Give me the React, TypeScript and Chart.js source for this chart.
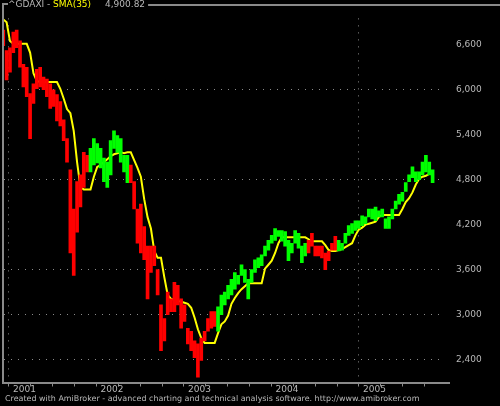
import { useEffect, useRef } from 'react';
import { Chart, registerables } from 'chart.js';

Chart.register(...registerables);

// Bi-weekly sampling of the ^GDAXI price history
const dates = [
  '2000-12-08', '2000-12-22',
  '2001-01-05', '2001-01-19', '2001-02-02', '2001-02-16', '2001-03-02', '2001-03-16', '2001-03-30', '2001-04-13', '2001-04-27', '2001-05-11', '2001-05-25', '2001-06-08', '2001-06-22',
  '2001-07-06', '2001-07-20', '2001-08-03', '2001-08-17', '2001-08-31', '2001-09-14', '2001-09-28', '2001-10-12', '2001-10-26', '2001-11-09', '2001-11-23', '2001-12-07', '2001-12-21',
  '2002-01-04', '2002-01-18', '2002-02-01', '2002-02-15', '2002-03-01', '2002-03-15', '2002-03-29', '2002-04-12', '2002-04-26', '2002-05-10', '2002-05-24', '2002-06-07', '2002-06-21',
  '2002-07-05', '2002-07-19', '2002-08-02', '2002-08-16', '2002-08-30', '2002-09-13', '2002-09-27', '2002-10-11', '2002-10-25', '2002-11-08', '2002-11-22', '2002-12-06', '2002-12-20',
  '2003-01-03', '2003-01-17', '2003-01-31', '2003-02-14', '2003-02-28', '2003-03-14', '2003-03-28', '2003-04-11', '2003-04-25', '2003-05-09', '2003-05-23', '2003-06-06', '2003-06-20',
  '2003-07-04', '2003-07-18', '2003-08-01', '2003-08-15', '2003-08-29', '2003-09-12', '2003-09-26', '2003-10-10', '2003-10-24', '2003-11-07', '2003-11-21', '2003-12-05', '2003-12-19',
  '2004-01-02', '2004-01-16', '2004-01-30', '2004-02-13', '2004-02-27', '2004-03-12', '2004-03-26', '2004-04-09', '2004-04-23', '2004-05-07', '2004-05-21', '2004-06-04', '2004-06-18',
  '2004-07-02', '2004-07-16', '2004-07-30', '2004-08-13', '2004-08-27', '2004-09-10', '2004-09-24', '2004-10-08', '2004-10-22', '2004-11-05', '2004-11-19', '2004-12-03', '2004-12-17', '2004-12-31',
  '2005-01-14', '2005-01-28', '2005-02-11', '2005-02-25', '2005-03-11', '2005-03-25', '2005-04-08', '2005-04-22', '2005-05-06', '2005-05-20', '2005-06-03',
  '2005-06-17', '2005-07-01', '2005-07-15', '2005-07-29', '2005-08-12', '2005-08-26', '2005-09-09', '2005-09-23', '2005-10-07', '2005-10-21', '2005-11-04',
];

const highs = [
  6796, 6522, 6561, 6770, 6796, 6652, 6339, 6300, 5948, 6078,
  6274, 6300, 6170, 6144, 6078, 6000, 5935, 5843, 5600, 5348,
  4931, 4409, 4774, 4865, 5165, 5126, 5217, 5348, 5283, 5217,
  5087, 5035, 5322, 5452, 5387, 5348, 5126, 5126, 4996, 4774,
  4409, 4474, 4174, 3913, 3913, 3913, 3600, 3130, 2948, 3300,
  3209, 3430, 3391, 3209, 3130, 2817, 2778, 2648, 2609, 2687,
  2778, 2948, 3039, 3039, 3104, 3261, 3300, 3391, 3470, 3561,
  3522, 3665, 3600, 3470, 3600, 3731, 3757, 3796, 3913, 3991,
  4057, 4148, 4122, 4122, 4109, 3991, 3952, 4122, 4083, 3913,
  3952, 3991, 4083, 3913, 3913, 3913, 3822, 3848, 3952, 4044,
  3991, 3952, 4083, 4187, 4213, 4252, 4252, 4317, 4304, 4409,
  4409, 4435, 4383, 4409, 4278, 4304, 4409, 4513, 4604, 4630,
  4761, 4865, 4970, 4904, 4904, 5035, 5126, 5035, 4931,
];

const lows = [
  6587, 6130, 6235, 6496, 6561, 6300, 6039, 5909, 5348, 5817,
  6013, 6039, 6000, 5909, 5752, 5778, 5583, 5517, 5322, 5035,
  3822, 3522, 4100, 4435, 4696, 4904, 4904, 4996, 5022, 4957,
  4774, 4696, 4865, 5217, 5165, 5035, 4904, 4761, 4761, 4409,
  3952, 3822, 3731, 3209, 3561, 3652, 3261, 2517, 2648, 3000,
  3039, 3039, 3130, 2817, 2909, 2609, 2517, 2426, 2165, 2387,
  2648, 2778, 2817, 2843, 2778, 3000, 3130, 3209, 3261, 3339,
  3404, 3522, 3430, 3209, 3430, 3561, 3626, 3652, 3783, 3861,
  3952, 3991, 4044, 3978, 3913, 3718, 3822, 3952, 3887, 3691,
  3783, 3822, 3913, 3783, 3783, 3757, 3600, 3718, 3861, 3861,
  3848, 3861, 3952, 4057, 4083, 4122, 4148, 4187, 4213, 4304,
  4278, 4252, 4304, 4304, 4148, 4148, 4278, 4409, 4474, 4513,
  4644, 4774, 4826, 4774, 4800, 4865, 4904, 4865, 4761,
];

const sma35 = [
  6939, 6900, 6652, 6613, 6613, 6613, 6613, 6613, 6496, 6222,
  6117, 6104, 6104, 6104, 6104, 6104, 6104, 6013, 5883, 5743,
  5687, 5452, 5035, 4696, 4670, 4670, 4670, 4839, 4970, 4996,
  5035, 5074, 5113, 5139, 5152, 5165, 5152, 5165, 5165, 5061,
  4957, 4839, 4540, 4300, 4148, 3848, 3757, 3757, 3496, 3261,
  3209, 3196, 3183, 3170, 3157, 3144, 3091, 2961, 2804, 2687,
  2622, 2622, 2622, 2622, 2752, 2870, 2909, 2987, 3144, 3222,
  3287, 3339, 3378, 3417, 3417, 3417, 3417, 3417, 3613, 3665,
  3718, 3822, 3952, 4031, 4031, 4031, 4031, 4031, 4031, 4031,
  4031, 4005, 3978, 3978, 3978, 3978, 3926, 3861, 3848, 3848,
  3861, 3874, 3900, 3926, 3952, 4057, 4135, 4161, 4200, 4213,
  4226, 4239, 4304, 4330, 4330, 4330, 4330, 4330, 4330, 4409,
  4500, 4552, 4630, 4735, 4813, 4839, 4852, 4878, 4904,
];

// +1 = up trend (green bars), -1 = down trend (red bars)
const trend = [
  -1, -1, -1, -1, -1, -1, -1, -1, -1, -1,
  -1, -1, -1, -1, -1, -1, -1, -1, -1, -1,
  -1, -1, -1, -1, -1, -1, 1, 1, 1, 1,
  1, 1, 1, 1, 1, 1, 1, 1, -1, -1,
  -1, -1, -1, -1, -1, -1, -1, -1, -1, -1,
  -1, -1, -1, -1, -1, -1, -1, -1, -1, -1,
  -1, -1, -1, -1, 1, 1, 1, 1, 1, 1,
  1, 1, 1, 1, 1, 1, 1, 1, 1, 1,
  1, 1, 1, 1, 1, 1, 1, 1, 1, 1,
  1, -1, -1, -1, -1, -1, -1, -1, -1, -1,
  1, 1, 1, 1, 1, 1, 1, 1, 1, 1,
  1, 1, 1, 1, 1, 1, 1, 1, 1, 1,
  1, 1, 1, 1, 1, 1, 1, 1, 1,
];

const yTicks = [2400, 3000, 3600, 4200, 4800, 5400, 6000, 6600];
const yGridLevels = [2400, 3000, 3600, 4800, 6000];
const yearTicks = [2001, 2002, 2003, 2004, 2005];
const yearGrid = [2001, 2005];

const symbol = '^GDAXI';
const indicatorName = 'SMA(35)';
const lastClose = '4,900.82';
const footer = 'Created with AmiBroker - advanced charting and technical analysis software. http://www.amibroker.com';

const RED = '#ff0000';
const GREEN = '#00ff00';
const YELLOW = '#ffff00';
const GRAY = '#8a8a8a';
const TEXT = '#b8b8b8';
const FONT = '"DejaVu Sans", sans-serif';

function toYear(d: string): number {
  const [y, m, day] = d.split('-').map(Number);
  const start = Date.UTC(y, 0, 1);
  const len = Date.UTC(y + 1, 0, 1) - start;
  return y + (Date.UTC(y, m - 1, day) - start) / len;
}

const framePlugin = {
  id: 'amiFrame',
  afterDraw(chart: any) {
    const ctx = chart.ctx as CanvasRenderingContext2D;
    ctx.save();
    ctx.fillStyle = GRAY;
    ctx.fillRect(2, 3, 2, 381);
    ctx.fillRect(2, 3, 6, 2);
    ctx.fillRect(2, 382, 448, 2);
    // title
    ctx.font = `9px ${FONT}`;
    ctx.textBaseline = 'middle';
    ctx.textAlign = 'left';
    ctx.fillStyle = TEXT;
    ctx.fillText(symbol + ' -', 8, 5);
    ctx.fillStyle = YELLOW;
    ctx.fillText(indicatorName, 53, 5);
    ctx.fillStyle = TEXT;
    ctx.fillText(lastClose, 105, 5);
    const endX = 105 + ctx.measureText(lastClose).width + 3;
    ctx.fillStyle = GRAY;
    ctx.fillRect(endX, 4, 500 - endX, 2);
    // footer
    ctx.font = `7px ${FONT}`;
    const w = ctx.measureText(footer).width;
    const size = (7 * 415) / w;
    ctx.font = `${size.toFixed(2)}px ${FONT}`;
    ctx.fillStyle = TEXT;
    ctx.fillText(footer, 5, 399);
    ctx.restore();
  },
};

export default function App() {
  const ref = useRef<HTMLCanvasElement>(null);

  useEffect(() => {
    const xs = dates.map(toYear);
    const quarterTicks: number[] = [];
    yearTicks.forEach((y) => [0, 0.25, 0.5, 0.75].forEach((q) => quarterTicks.push(y + q)));

    const chart = new Chart(ref.current as HTMLCanvasElement, {
      type: 'bar',
      data: {
        datasets: [
          {
            type: 'bar',
            data: xs.map((x, i) => ({ x, y: [lows[i], highs[i]] })) as any,
            backgroundColor: trend.map((t) => (t > 0 ? GREEN : RED)),
            borderWidth: 0,
            barThickness: 3,
            grouped: false,
            order: 1,
          } as any,
          {
            type: 'line',
            data: xs.map((x, i) => ({ x, y: sma35[i] })) as any,
            borderColor: YELLOW,
            borderWidth: 2,
            pointRadius: 0,
            tension: 0,
            order: 2,
          } as any,
        ],
      },
      options: {
        responsive: false,
        animation: false,
        devicePixelRatio: 1,
        layout: { padding: { top: 10, left: 4, right: 0, bottom: 0 } },
        plugins: { legend: { display: false }, tooltip: { enabled: false }, title: { display: false } },
        scales: {
          x: {
            type: 'linear',
            min: 2000.94286,
            max: 2005.96,
            offset: false,
            border: { display: false, dash: [1, 6] },
            grid: {
              offset: false,
              color: (c: any) => (yearGrid.includes(c.tick?.value) ? GRAY : 'rgba(0,0,0,0)'),
              tickColor: GRAY,
              tickBorderDash: [],
              tickLength: 4,
              lineWidth: 1,
            } as any,
            afterBuildTicks: (scale: any) => {
              scale.ticks = quarterTicks.filter((v) => v >= scale.min && v <= scale.max).map((v) => ({ value: v }));
            },
            afterFit: (scale: any) => {
              scale.height = 23.5;
            },
            ticks: {
              autoSkip: false,
              maxRotation: 0,
              minRotation: 0,
              align: 'start',
              labelOffset: 4,
              padding: -2,
              color: TEXT,
              font: { family: FONT, size: 9 },
              callback: (v: any) => (yearTicks.includes(v) ? String(v) : ''),
            },
          },
          y: {
            type: 'linear',
            position: 'right',
            min: 2093.5,
            max: 6952.2,
            border: { display: false, dash: [1, 6] },
            grid: {
              color: (c: any) => (yGridLevels.includes(c.tick?.value) ? GRAY : 'rgba(0,0,0,0)'),
              drawTicks: false,
              lineWidth: 1,
            } as any,
            afterBuildTicks: (scale: any) => {
              scale.ticks = yTicks.map((v) => ({ value: v }));
            },
            afterFit: (scale: any) => {
              scale.width = 57;
            },
            ticks: {
              padding: 13,
              color: TEXT,
              font: { family: FONT, size: 9 },
              callback: (v: any) => Number(v).toLocaleString('en-US'),
            },
          },
        },
      },
      plugins: [framePlugin],
    });
    return () => chart.destroy();
  }, []);

  return (
    <div style={{ position: 'fixed', left: 0, top: 0, width: 500, height: 406, background: '#000' }}>
      <canvas ref={ref} width={500} height={406} style={{ display: 'block' }} />
    </div>
  );
}
